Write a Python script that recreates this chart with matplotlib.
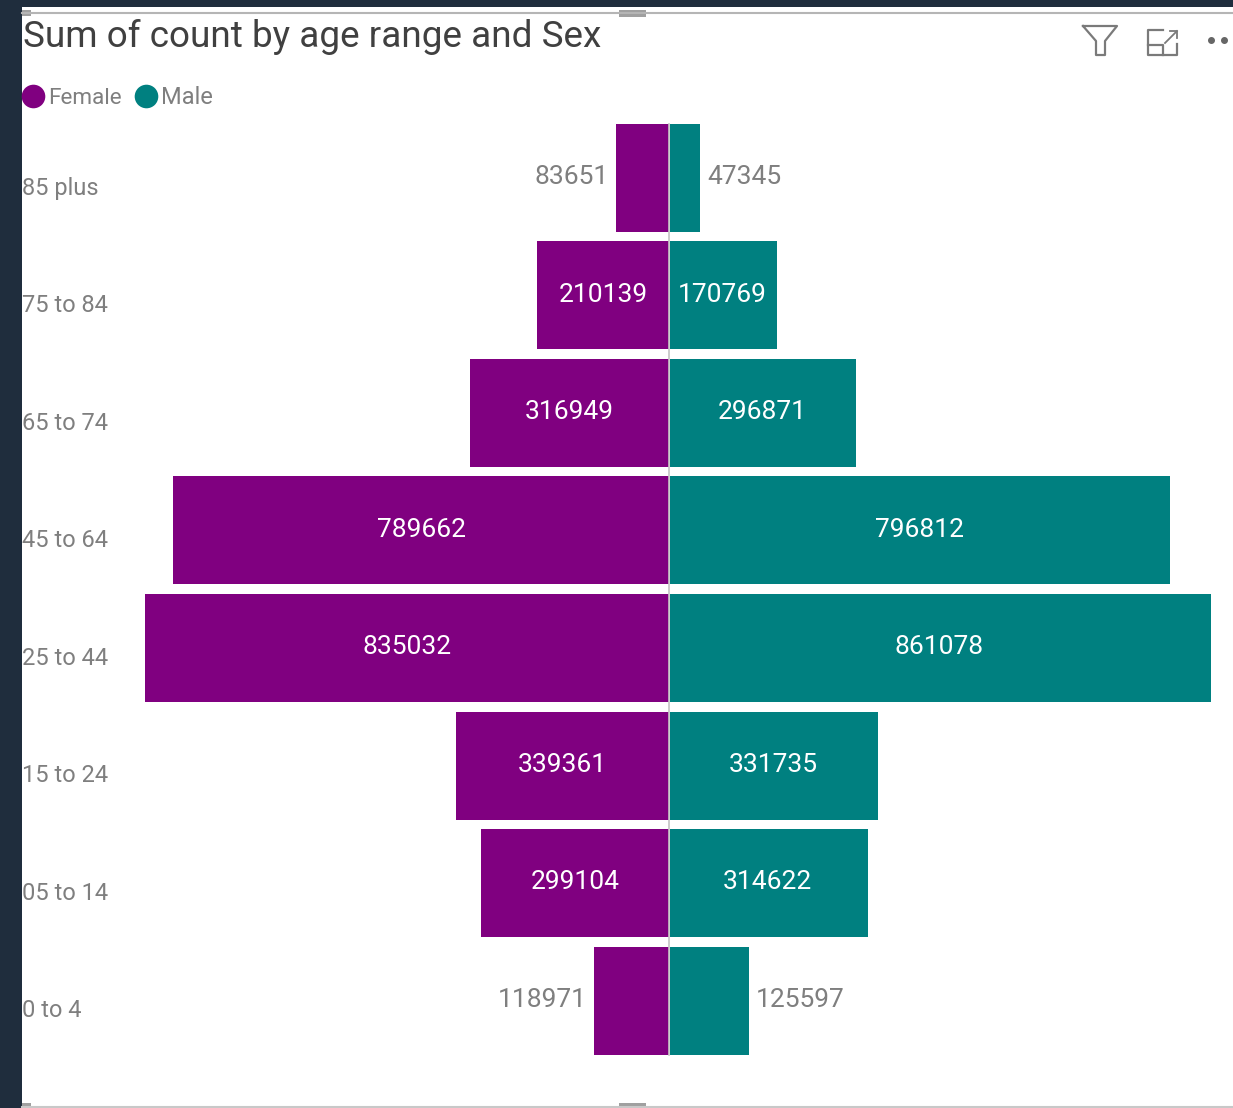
import matplotlib
matplotlib.use('Agg')
import matplotlib.pyplot as plt
from matplotlib.patches import Rectangle

ages = ['0 to 4', '05 to 14', '15 to 24', '25 to 44', '45 to 64', '65 to 74', '75 to 84', '85 plus']
female = [118971, 299104, 339361, 835032, 789662, 316949, 210139, 83651]
male = [125597, 314622, 331735, 861078, 796812, 296871, 170769, 47345]

purple = '#800080'
teal = '#008080'
dark = '#1f2d3d'
W, H = 1233, 1108

plt.rcParams['font.family'] = ['Roboto', 'DejaVu Sans']

fig = plt.figure(figsize=(W / 100, H / 100), dpi=100, facecolor='white')

# page furniture, in pixels
bg = fig.add_axes([0, 0, 1, 1])
bg.set_xlim(0, W)
bg.set_ylim(H, 0)
bg.axis('off')
bg.add_patch(Rectangle((0, 0), 22, H, color=dark, lw=0))
bg.add_patch(Rectangle((0, 0), W, 7, color=dark, lw=0))
bg.plot([22, W], [12.5, 12.5], color='#b5b5b5', lw=1.5)
bg.plot([22, W], [1107, 1107], color='#c8c8c8', lw=1.5)
for x0, x1, y0, y1 in [(22, 31, 10, 16), (619, 646, 10, 17), (22, 31, 1103, 1108), (619, 646, 1103, 1108)]:
    bg.add_patch(Rectangle((x0, y0), x1 - x0, y1 - y0, color='#a0a0a0', lw=0))

# filter icon
bg.plot([1083, 1117, 1105, 1105, 1096, 1096, 1083], [26, 26, 41, 55, 55, 41, 26], color='#7a7a7a', lw=1.6)
# focus icon
bg.plot([1163, 1148, 1148, 1177, 1177], [30, 30, 55, 55, 44], color='#7a7a7a', lw=1.6)
bg.plot([1148, 1163, 1163], [45, 45, 55], color='#7a7a7a', lw=1.6)
bg.plot([1165, 1177], [43, 31], color='#7a7a7a', lw=1.3)
bg.plot([1170, 1177, 1177], [31, 31, 38], color='#7a7a7a', lw=1.3)
bg.plot([1211, 1224], [40, 40], ls='none', marker='o', ms=4, color='#666666')

bg.text(23, 37, 'Sum of count by age range and Sex', fontsize=26.6, color='#404040', va='center', ha='left')
bg.plot([33], [96], marker='o', ms=17, color=purple, mew=0)
bg.text(48, 98, 'Female', fontsize=16.2, color='#7f7f7f', va='center', ha='left')
bg.plot([146], [96], marker='o', ms=17, color=teal, mew=0)
bg.text(161, 98, 'Male', fontsize=17, color='#7f7f7f', va='center', ha='left')

# chart axes cover the figure so the scale lines up with the pixels
ax = fig.add_axes([0, 0, 1, 1])
ax.patch.set_alpha(0)
ax.axis('off')
scale = 0.000628
step = 117.5
ax.set_xlim(-669 / scale, (W - 669) / scale)
ax.set_ylim(-(H - 1000.5) / step, 7 + 178 / step)

h = 108 / step
ypos = list(range(len(ages)))
ax.barh(ypos, [-v for v in female], height=h, color=purple, lw=0)
ax.barh(ypos, male, height=h, left=1600, color=teal, lw=0)
ax.plot([0, 0], [-h / 2, 7 + h / 2], color='#c4c4c4', lw=1.2)

for i, age in enumerate(ages):
    ax.annotate(age, (22, i), xycoords=('figure pixels', 'data'), xytext=(0, -7.5), textcoords='offset points',
                fontsize=17, color='#7f7f7f', va='center', ha='left')
    for v, sign in [(female[i], -1), (male[i], 1)]:
        if v < 150000:
            ha = 'right' if sign < 0 else 'left'
            off = -5.5 if sign < 0 else 6
            ax.annotate(str(v), (sign * v, i), xytext=(off, 0.7), textcoords='offset points',
                        fontsize=19, color='#7f7f7f', va='center', ha=ha)
        else:
            ax.annotate(str(v), (sign * v / 2, i), xytext=(0, 0.7), textcoords='offset points',
                        fontsize=19, color='white', va='center', ha='center')

fig.savefig('out.png', dpi=100, facecolor='white')
